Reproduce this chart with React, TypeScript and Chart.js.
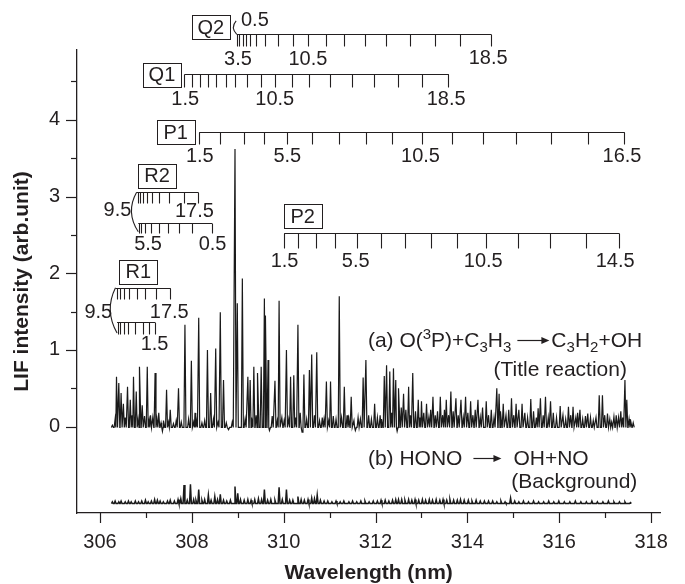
import React, { useEffect, useRef } from 'react';
import { Chart, registerables } from 'chart.js';
Chart.register(...registerables);

const FONT = '"Liberation Sans", Arial, Helvetica, sans-serif';
const INK = '#231f20';

// ---------- axes ----------
const xMajorTicks = [306, 308, 310, 312, 314, 316, 318];
const xMinorTicks = [307, 309, 311, 313, 315, 317];
const yMajorTicks = [0, 1, 2, 3, 4];
const yMinorTicks = [0.5, 1.5, 2.5, 3.5, 4.5];

// ---------- trace (a): O(3P)+C3H3 ----------
const peakWlA = [306.36, 306.41, 306.46, 306.51, 306.60, 306.66, 306.73, 306.79, 306.87, 306.92, 307.03, 307.10, 307.20, 307.28, 307.45, 307.53, 307.71, 307.85, 307.99, 308.07, 308.15, 308.34, 308.41, 308.52, 308.62, 308.69, 308.94, 308.99, 309.10, 309.22, 309.27, 309.35, 309.44, 309.51, 309.58, 309.61, 309.66, 309.81, 309.90, 310.06, 310.15, 310.22, 310.31, 310.44, 310.56, 310.61, 310.72, 310.93, 311.02, 311.21, 311.32, 311.47, 311.73, 311.79, 311.98, 312.19, 312.24, 312.31, 312.39, 312.44, 312.51, 312.61, 312.72, 312.81, 312.93, 313.00, 313.11, 313.25, 313.41, 313.54, 313.64, 313.75, 313.86, 313.96, 314.07, 314.23, 314.41, 314.64, 314.69, 314.78, 314.96, 315.06, 315.19, 315.38, 315.59, 315.70, 315.81, 316.02, 316.20, 316.30, 316.45, 316.62, 316.87, 316.94, 317.05, 317.19, 317.43, 317.47];
const peakHA = [0.65, 0.57, 0.44, 0.30, 0.52, 0.35, 0.65, 0.46, 0.78, 0.28, 0.78, 0.15, 0.70, 0.18, 0.48, 0.22, 0.50, 1.33, 0.86, 0.18, 1.42, 1.00, 0.44, 1.02, 1.49, 0.61, 3.62, 1.61, 1.93, 0.65, 0.61, 0.78, 0.70, 0.78, 1.67, 1.45, 0.87, 0.60, 1.64, 1.00, 0.65, 0.67, 1.33, 0.68, 0.74, 0.94, 0.97, 0.59, 0.59, 1.70, 0.52, 0.39, 0.64, 0.87, 0.30, 0.66, 0.80, 0.72, 0.76, 0.61, 0.50, 0.43, 0.52, 0.70, 0.35, 0.33, 0.30, 0.39, 0.39, 0.35, 0.46, 0.37, 0.35, 0.39, 0.33, 0.35, 0.33, 0.50, 0.43, 0.30, 0.37, 0.30, 0.30, 0.36, 0.37, 0.39, 0.33, 0.27, 0.26, 0.26, 0.22, 0.17, 0.41, 0.41, 0.17, 0.13, 0.61, 0.35];
const grassWlA = [306.27, 306.33, 306.55, 306.70, 306.83, 306.97, 307.07, 307.15, 307.24, 307.33, 307.36, 307.39, 307.49, 307.60, 307.66, 307.77, 307.93, 308.04, 308.10, 308.22, 308.28, 308.47, 308.57, 308.75, 308.80, 308.88, 309.16, 309.31, 309.40, 309.69, 309.75, 309.86, 309.96, 310.01, 310.11, 310.26, 310.36, 310.40, 310.50, 310.67, 310.78, 310.84, 310.88, 310.98, 311.08, 311.14, 311.26, 311.38, 311.42, 311.53, 311.56, 311.62, 311.67, 311.85, 311.91, 312.04, 312.10, 312.14, 312.35, 312.47, 312.56, 312.66, 312.76, 312.87, 312.97, 313.05, 313.16, 313.20, 313.30, 313.35, 313.46, 313.50, 313.59, 313.69, 313.80, 313.91, 314.01, 314.12, 314.17, 314.28, 314.33, 314.46, 314.52, 314.58, 314.73, 314.84, 314.90, 315.01, 315.12, 315.25, 315.31, 315.44, 315.50, 315.54, 315.65, 315.76, 315.87, 315.94, 316.08, 316.14, 316.25, 316.36, 316.40, 316.51, 316.57, 316.68, 316.74, 316.80, 316.99, 317.10, 317.14, 317.24, 317.29, 317.34, 317.38, 317.52, 317.56, 317.61];
const grassHA = [0.02, 0.10, 0.12, 0.15, 0.10, 0.14, 0.08, 0.12, 0.10, 0.05, -0.06, 0.08, 0.06, 0.04, 0.08, 0.06, 0.10, 0.06, 0.08, 0.05, 0.08, 0.10, 0.06, 0.05, -0.04, 0.06, 0.10, 0.12, 0.15, -0.05, 0.14, 0.08, 0.12, 0.08, 0.10, 0.12, 0.18, -0.07, 0.10, 0.15, 0.08, 0.12, 0.10, 0.08, 0.14, 0.10, 0.12, 0.15, 0.10, 0.08, -0.05, 0.12, 0.10, 0.15, 0.10, 0.12, 0.15, 0.10, 0.18, -0.06, 0.25, 0.22, 0.15, 0.20, 0.12, 0.18, 0.12, 0.22, 0.15, 0.20, 0.15, 0.22, 0.15, 0.20, 0.15, 0.12, 0.18, 0.15, 0.22, 0.12, 0.25, 0.15, 0.22, 0.12, 0.20, 0.15, 0.22, 0.15, 0.22, 0.18, 0.12, 0.20, 0.12, 0.24, 0.15, 0.12, 0.18, 0.12, 0.15, 0.10, 0.15, 0.12, 0.18, 0.10, 0.14, 0.12, 0.08, 0.12, 0.15, 0.10, 0.06, 0.15, 0.12, 0.20, 0.12, 0.10, 0.06, 0.05];

// ---------- trace (b): HONO background ----------
const baseB = -0.99;
const peakWlB = [307.19, 307.83, 307.97, 308.15, 308.36, 308.50, 308.62, 308.94, 309.00, 309.58, 309.90, 310.06, 310.31, 310.61, 310.73, 312.50, 314.94];
const peakHB = [0.04, 0.23, 0.24, 0.17, 0.10, 0.08, 0.11, 0.21, 0.12, 0.17, 0.20, 0.17, 0.08, 0.06, 0.10, 0.04, 0.06];
const grassWlB = [306.27, 306.33, 306.41, 306.46, 306.55, 306.62, 306.68, 306.77, 306.84, 306.91, 306.99, 307.05, 307.12, 307.25, 307.31, 307.38, 307.47, 307.53, 307.62, 307.70, 307.76, 307.90, 308.04, 308.09, 308.22, 308.28, 308.42, 308.56, 308.69, 308.76, 308.84, 309.06, 309.14, 309.22, 309.29, 309.37, 309.45, 309.52, 309.65, 309.72, 309.81, 309.97, 310.13, 310.20, 310.38, 310.45, 310.53, 310.67, 310.80, 310.88, 310.96, 311.05, 311.14, 311.23, 311.31, 311.42, 311.50, 311.59, 311.68, 311.77, 311.86, 311.95, 312.04, 312.12, 312.21, 312.29, 312.37, 312.44, 312.57, 312.64, 312.72, 312.79, 312.86, 312.94, 313.02, 313.09, 313.17, 313.24, 313.32, 313.40, 313.47, 313.55, 313.62, 313.70, 313.78, 313.85, 313.93, 314.02, 314.10, 314.19, 314.28, 314.37, 314.46, 314.55, 314.64, 314.73, 314.82, 315.03, 315.12, 315.22, 315.33, 315.44, 315.55, 315.66, 315.77, 315.88, 315.99, 316.11, 316.23, 316.35, 316.47, 316.59, 316.71, 316.83, 316.95, 317.07, 317.19, 317.31, 317.43, 317.55];
const grassHB = [0.01, 0.02, 0.01, 0.02, 0.01, 0.02, 0.01, 0.02, 0.01, 0.02, 0.03, 0.01, 0.02, 0.03, 0.02, 0.01, 0.02, 0.03, 0.02, 0.04, 0.05, 0.03, 0.04, 0.03, 0.03, 0.04, 0.03, 0.04, 0.03, 0.02, 0.03, 0.04, 0.03, 0.04, 0.03, 0.04, 0.05, 0.04, 0.03, 0.04, 0.03, 0.04, 0.03, 0.03, 0.04, 0.03, 0.04, 0.05, 0.03, 0.02, 0.02, 0.01, 0.02, 0.01, 0.02, 0.01, 0.02, 0.01, 0.02, 0.02, 0.01, 0.02, 0.02, 0.03, 0.03, 0.02, 0.03, 0.04, 0.04, 0.03, 0.04, 0.03, 0.04, 0.03, 0.04, 0.03, 0.04, 0.03, 0.04, 0.03, 0.04, 0.03, 0.04, 0.03, 0.03, 0.04, 0.03, 0.03, 0.02, 0.03, 0.02, 0.02, 0.02, 0.02, 0.01, 0.02, 0.01, 0.02, 0.01, 0.02, 0.01, 0.02, 0.01, 0.01, 0.02, 0.01, 0.02, 0.01, 0.01, 0.02, 0.01, 0.01, 0.02, 0.01, 0.01, 0.02, 0.01, 0.01, 0.01, 0.00];

// ---------- rotational line assignments (nm) ----------
const q2Lines = [308.983, 309.032, 309.104, 309.174, 309.260, 309.387, 309.600, 309.870, 310.202, 310.521, 310.913, 311.317, 311.764, 312.223, 312.743, 313.287, 313.840, 314.509];
const q1Lines = [307.840, 308.004, 308.181, 308.360, 308.536, 308.734, 308.947, 309.211, 309.515, 309.813, 310.181, 310.557, 310.998, 311.479, 311.962, 312.487, 313.019, 313.585];
const p1Lines = [308.160, 308.606, 309.126, 309.564, 310.074, 310.615, 311.196, 311.785, 312.366, 313.004, 313.657, 314.338, 315.062, 315.828, 316.621, 317.415];
const p2Lines = [310.011, 310.309, 310.700, 311.111, 311.600, 312.117, 312.649, 313.217, 313.770, 314.402, 315.096, 315.791, 316.585, 317.296];
const r2UpperLines = [306.823, 306.870, 306.940, 307.032, 307.138, 307.296, 307.509, 307.828, 308.132];
const r2LowerLines = [306.849, 306.904, 306.977, 307.117, 307.296, 307.472, 307.721, 308.004, 308.430];
const r1UpperLines = [306.372, 306.430, 306.515, 306.643, 306.798, 306.977, 307.223, 307.530];
const r1LowerLines = [306.394, 306.445, 306.515, 306.621, 306.764, 306.940, 307.062, 307.189];

type Pt = { x: number; y: number };

function buildTrace(wlA: number[], hA: number[], wlB: number[], hB: number[], base: number, valley: number, halfW: number): Pt[] {
  const f: Pt[] = [];
  wlA.forEach((x, i) => f.push({ x, y: base + hA[i] }));
  wlB.forEach((x, i) => f.push({ x, y: base + hB[i] }));
  f.sort((a, b) => a.x - b.x);
  const pts: Pt[] = [];
  for (let i = 0; i < f.length; i++) {
    const prev = i > 0 ? f[i - 1].x : -Infinity;
    const next = i < f.length - 1 ? f[i + 1].x : Infinity;
    const l = Math.min(halfW, (f[i].x - prev) / 2);
    const r = Math.min(halfW, (next - f[i].x) / 2);
    pts.push({ x: f[i].x - l, y: base + valley });
    pts.push(f[i]);
    pts.push({ x: f[i].x + r, y: base + valley });
  }
  return pts;
}

// comb layouts (level/labels in data units; tick lengths in px)
const combs = [
  { lines: q2Lines, level: 5.116, tick: 12, labels: [{ t: '0.5', x: 309.07, y: 5.30, a: 'left' }, { t: '3.5', x: 309.004, y: 4.78, a: 'center' }, { t: '10.5', x: 310.526, y: 4.78, a: 'center' }, { t: '18.5', x: 314.451, y: 4.80, a: 'center' }], box: { t: 'Q2', x: 308.413, y: 5.209 }, start: 308.975 },
  { lines: q1Lines, level: 4.599, tick: 13, labels: [{ t: '1.5', x: 307.855, y: 4.26, a: 'center' }, { t: '10.5', x: 309.806, y: 4.26, a: 'center' }, { t: '18.5', x: 313.536, y: 4.27, a: 'center' }], box: { t: 'Q1', x: 307.349, y: 4.590 }, start: 307.840 },
  { lines: p1Lines, level: 3.846, tick: 12, labels: [{ t: '1.5', x: 308.174, y: 3.52, a: 'center' }, { t: '5.5', x: 310.079, y: 3.52, a: 'center' }, { t: '10.5', x: 312.979, y: 3.52, a: 'center' }, { t: '16.5', x: 317.366, y: 3.52, a: 'center' }], box: { t: 'P1', x: 307.649, y: 3.836 }, start: 308.160 },
  { lines: p2Lines, level: 2.529, tick: 15, labels: [{ t: '1.5', x: 310.019, y: 2.151, a: 'center' }, { t: '5.5', x: 311.568, y: 2.151, a: 'center' }, { t: '10.5', x: 314.345, y: 2.151, a: 'center' }, { t: '14.5', x: 317.217, y: 2.157, a: 'center' }], box: { t: 'P2', x: 310.415, y: 2.744 }, start: 310.011 },
  { lines: r2UpperLines, level: 3.056, tick: 11, labels: [{ t: '9.5', x: 306.685, y: 2.812, a: 'right' }, { t: '17.5', x: 308.057, y: 2.799, a: 'center' }], box: { t: 'R2', x: 307.243, y: 3.272 }, start: 306.798 },
  { lines: r2LowerLines, level: 2.660, tick: 10, labels: [{ t: '5.5', x: 307.047, y: 2.369, a: 'center' }, { t: '0.5', x: 308.451, y: 2.369, a: 'center' }], box: null, start: 306.834 },
  { lines: r1UpperLines, level: 1.812, tick: 11, labels: [{ t: '9.5', x: 306.266, y: 1.495, a: 'right' }, { t: '17.5', x: 307.509, y: 1.495, a: 'center' }], box: { t: 'R1', x: 306.834, y: 2.017 }, start: 306.338 },
  { lines: r1LowerLines, level: 1.369, tick: 12, labels: [{ t: '1.5', x: 307.189, y: 1.078, a: 'center' }], box: null, start: 306.372 },
];
const brackets = [
  { x1: 308.975, y1: 5.116, x2: 308.965, y2: 5.289, bulge: -3 },
  { x1: 306.798, y1: 3.056, x2: 306.834, y2: 2.540, bulge: -6 },
  { x1: 306.338, y1: 1.812, x2: 306.372, y2: 1.222, bulge: -6 },
];
// reaction labels: sequences of text / sub / sup / arrow pieces
const reactions = [
  { x: 311.834, y: 1.043, parts: [['(a) O(', 'n'], ['3', 'sup'], ['P)+C', 'n'], ['3', 'sub'], ['H', 'n'], ['3', 'sub'], ['', 'gap6'], ['', 'arrow32'], ['', 'gap2'], ['C', 'n'], ['3', 'sub'], ['H', 'n'], ['2', 'sub'], ['+OH', 'n']] },
  { x: 311.834, y: -0.499, parts: [['(b) HONO', 'n'], ['', 'gap11'], ['', 'arrow28'], ['', 'gap12'], ['OH+NO', 'n']] },
];
const plainTexts = [
  { t: '(Title reaction)', x: 317.474, y: 0.661 },
  { t: '(Background)', x: 317.70, y: -0.80 },
];

const annotPlugin = {
  id: 'annot',
  afterDraw(chart: any) {
    const ctx: CanvasRenderingContext2D = chart.ctx;
    const xs = chart.scales.x;
    const ys = chart.scales.y;
    const X = (v: number) => xs.getPixelForValue(v);
    const Y = (v: number) => ys.getPixelForValue(v);
    const ca = chart.chartArea;
    ctx.save();
    ctx.strokeStyle = INK;
    ctx.fillStyle = INK;
    // axis ticks
    ctx.lineWidth = 1.2;
    const tickX = (v: number, len: number) => { const px = Math.round(X(v)) + 0.5; ctx.beginPath(); ctx.moveTo(px, ca.bottom); ctx.lineTo(px, ca.bottom + len); ctx.stroke(); };
    const tickY = (v: number, len: number) => { const py = Math.round(Y(v)) + 0.5; ctx.beginPath(); ctx.moveTo(ca.left, py); ctx.lineTo(ca.left - len, py); ctx.stroke(); };
    xMajorTicks.forEach(v => tickX(v, 10));
    xMinorTicks.forEach(v => tickX(v, 5));
    yMajorTicks.forEach(v => tickY(v, 11));
    yMinorTicks.forEach(v => tickY(v, 6));
    // axis titles
    ctx.font = 'bold 21px ' + FONT;
    ctx.textAlign = 'center';
    ctx.textBaseline = 'middle';
    ctx.fillText('Wavelength (nm)', (ca.left + ca.right) / 2, 573);
    ctx.save();
    ctx.translate(22, (ca.top + ca.bottom) / 2);
    ctx.rotate(-Math.PI / 2);
    ctx.fillText('LIF intensity (arb.unit)', 0, 0);
    ctx.restore();
    // combs
    ctx.lineWidth = 1.1;
    ctx.font = '20px ' + FONT;
    for (const c of combs) {
      const ly = Math.round(Y(c.level)) + 0.5;
      const x0 = X(c.start);
      const x1 = X(c.lines[c.lines.length - 1]);
      ctx.beginPath();
      ctx.moveTo(x0, ly); ctx.lineTo(x1 + 0.5, ly);
      for (const l of c.lines) {
        const px = Math.round(X(l)) + 0.5;
        ctx.moveTo(px, ly); ctx.lineTo(px, ly + c.tick);
      }
      ctx.stroke();
      ctx.textBaseline = 'middle';
      for (const lb of c.labels) {
        ctx.textAlign = lb.a as CanvasTextAlign;
        ctx.fillText(lb.t, X(lb.x), Y(lb.y));
      }
      if (c.box) {
        const bx = X(c.box.x), by = Y(c.box.y);
        ctx.lineWidth = 1;
        ctx.strokeRect(Math.round(bx - 19) + 0.5, Math.round(by - 12) + 0.5, 38, 24);
        ctx.lineWidth = 1.1;
        ctx.textAlign = 'center';
        ctx.fillText(c.box.t, bx, by + 1);
      }
    }
    for (const b of brackets) {
      const ax = X(b.x1), ay = Y(b.y1), bx2 = X(b.x2), by2 = Y(b.y2);
      ctx.beginPath();
      ctx.moveTo(ax, ay);
      ctx.quadraticCurveTo((ax + bx2) / 2 + 2 * b.bulge, (ay + by2) / 2, bx2, by2);
      ctx.stroke();
    }
    // reaction texts
    const size = 21;
    ctx.textAlign = 'left';
    ctx.textBaseline = 'alphabetic';
    for (const r of reactions) {
      let cx = X(r.x);
      const by = Y(r.y);
      for (const [t, m] of r.parts as [string, string][]) {
        if (m === 'n') {
          ctx.font = size + 'px ' + FONT;
          ctx.fillText(t, cx, by);
          cx += ctx.measureText(t).width;
        } else if (m === 'sub' || m === 'sup') {
          ctx.font = Math.round(size * 0.7) + 'px ' + FONT;
          ctx.fillText(t, cx, m === 'sub' ? by + 5 : by - 8);
          cx += ctx.measureText(t).width;
        } else if (m.startsWith('gap')) {
          cx += Number(m.slice(3));
        } else if (m.startsWith('arrow')) {
          const len = Number(m.slice(5));
          const ay = Math.round(by - 7) + 0.5;
          ctx.lineWidth = 1.2;
          ctx.beginPath(); ctx.moveTo(cx, ay); ctx.lineTo(cx + len - 6, ay); ctx.stroke();
          ctx.beginPath(); ctx.moveTo(cx + len, ay); ctx.lineTo(cx + len - 8, ay - 3.5); ctx.lineTo(cx + len - 8, ay + 3.5); ctx.closePath(); ctx.fill();
          cx += len;
        }
      }
    }
    ctx.font = size + 'px ' + FONT;
    ctx.textAlign = 'right';
    for (const p of plainTexts) ctx.fillText(p.t, X(p.x), Y(p.y));
    ctx.restore();
  },
};

export default function App() {
  const ref = useRef<HTMLCanvasElement | null>(null);
  useEffect(() => {
    if (!ref.current) return;
    const traceA = buildTrace(peakWlA, peakHA, grassWlA, grassHA, 0, -0.01, 0.022);
    const traceB = buildTrace(peakWlB, peakHB, grassWlB, grassHB, baseB, -0.012, 0.02);
    const chart = new Chart(ref.current, {
      type: 'scatter',
      data: {
        datasets: [
          { data: traceA, showLine: true, borderColor: '#1a1a1a', borderWidth: 1.2, pointRadius: 0, tension: 0 },
          { data: traceB, showLine: true, borderColor: '#1a1a1a', borderWidth: 1.5, pointRadius: 0, tension: 0 },
        ],
      },
      options: {
        animation: false,
        responsive: false,
        devicePixelRatio: 1,
        layout: { padding: { top: 50, right: 12, left: 0, bottom: 0 } },
        plugins: { legend: { display: false }, tooltip: { enabled: false } },
        scales: {
          x: {
            type: 'linear', min: 305.5, max: 318.2,
            afterBuildTicks: (s: any) => { s.ticks = xMajorTicks.map(v => ({ value: v })); },
            afterFit: (s: any) => { s.height = 71; },
            grid: { drawOnChartArea: false, drawTicks: false },
            border: { display: true, color: INK, width: 1.3 },
            ticks: { font: { family: FONT, size: 20 }, color: INK, padding: 17, autoSkip: false, maxRotation: 0, callback: (v: any) => String(v) },
          },
          y: {
            type: 'linear', min: -1.125, max: 4.91,
            afterBuildTicks: (s: any) => { s.ticks = yMajorTicks.map(v => ({ value: v })); },
            afterFit: (s: any) => { s.width = 77; },
            grid: { drawOnChartArea: false, drawTicks: false },
            border: { display: true, color: INK, width: 1.3 },
            ticks: { font: { family: FONT, size: 20 }, color: INK, padding: 17, callback: (v: any) => String(v) },
          },
        },
      },
      plugins: [annotPlugin],
    } as any);
    return () => chart.destroy();
  }, []);
  return (
    <div style={{ position: 'absolute', left: 0, top: 0, width: 685, height: 584, background: '#fff' }}>
      <canvas ref={ref} width={685} height={584} style={{ display: 'block', width: 685, height: 584 }} />
    </div>
  );
}
